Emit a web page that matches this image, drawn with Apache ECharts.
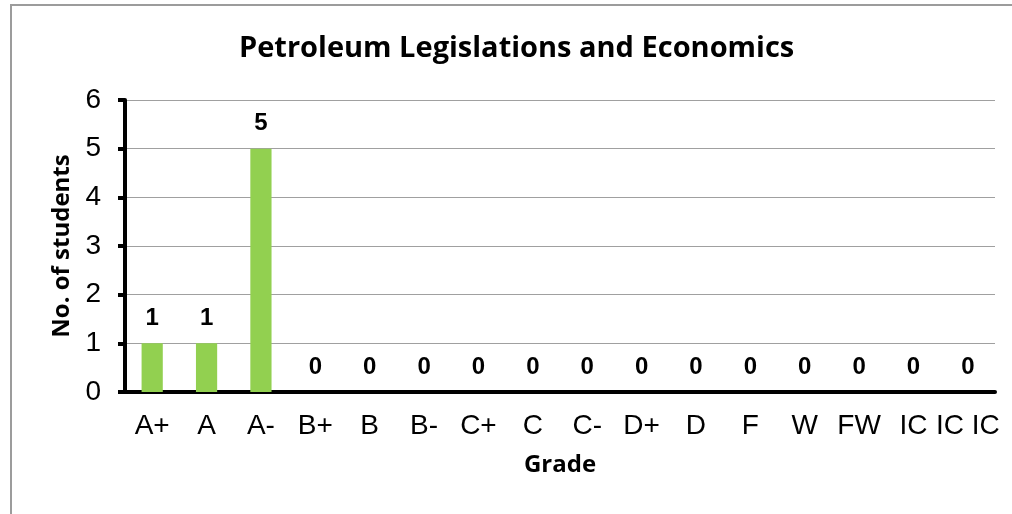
<!DOCTYPE html>
<html>
<head>
<meta charset="utf-8">
<script src="https://cdn.jsdelivr.net/npm/echarts@6/dist/echarts.min.js"></script>
<style>
  body { margin: 0; background: #fff; }
  #main { position: absolute; left: 0; top: 0; width: 1012px; height: 514px; }
  #frame { position: absolute; left: 10px; top: 4px; width: 1100px; height: 600px;
    border-left: 2px solid #9c9c9c; border-top: 2px solid #9c9c9c; pointer-events: none; }
</style>
</head>
<body>
<div id="main"></div>
<div id="frame"></div>
<script>
const grades = ['A+', 'A', 'A-', 'B+', 'B', 'B-', 'C+', 'C', 'C-', 'D+', 'D', 'F', 'W', 'FW', 'IC', 'IC IC']
const students = [1, 1, 5, 0, 0, 0, 0, 0, 0, 0, 0, 0, 0, 0, 0, 0]
const yTicks = [0, 6, 1]  // min, max, interval

const myChart = echarts.init(document.getElementById('main'))

const option = {
  animation: false,
  title: {
    text: 'Petroleum Legislations and Economics',
    left: 234,
    top: 29,
    textStyle: { fontFamily: 'Open Sans', fontWeight: 'bold', fontSize: 29, color: '#000' },
  },
  grid: { left: 125, right: 17, top: 100, bottom: 122 },
  xAxis: {
    type: 'category',
    data: grades,
    name: 'Grade',
    nameLocation: 'middle',
    nameGap: 61,
    nameTextStyle: { fontFamily: 'Open Sans', fontWeight: 'bold', fontSize: 24, color: '#000' },
    axisLine: { lineStyle: { color: '#000', width: 4 } },
    axisTick: { length: 7, lineStyle: { color: '#000', width: 4 } },
    axisLabel: { interval: 0, margin: 20, fontFamily: 'Arial', fontSize: 28, color: '#000' },
  },
  yAxis: {
    type: 'value',
    min: yTicks[0],
    max: yTicks[1],
    interval: yTicks[2],
    name: 'No. of students',
    nameLocation: 'middle',
    nameGap: 50,
    nameTextStyle: { fontFamily: 'Open Sans', fontWeight: 'bold', fontSize: 24, color: '#000' },
    axisLine: { show: true, lineStyle: { color: '#000', width: 4 } },
    axisTick: { show: true, length: 7, lineStyle: { color: '#000', width: 4 } },
    axisLabel: { margin: 24, fontFamily: 'Arial', fontSize: 28, color: '#000' },
    splitLine: { lineStyle: { color: '#a0a0a0', width: 1 } },
  },
  series: [{
    type: 'bar',
    data: students,
    barWidth: '39%',
    itemStyle: { color: '#92D050' },
    label: {
      show: true,
      position: 'top',
      distance: 13,
      fontFamily: 'Arial',
      fontWeight: 'bold',
      fontSize: 24,
      color: '#000',
    },
  }],
}

myChart.setOption(option)
</script>
</body>
</html>
